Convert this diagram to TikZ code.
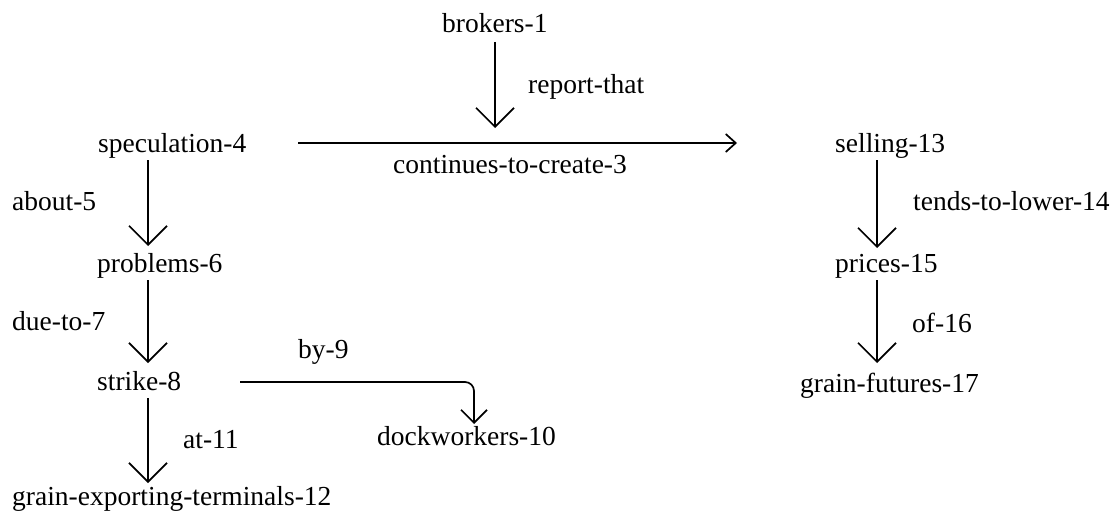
\documentclass[tikz,border=0pt]{standalone}
\usepackage{fontspec}
\setmainfont{Liberation Serif}
\usetikzlibrary{arrows.meta}
\begin{document}
\begin{tikzpicture}[x=1pt,y=-1pt,
  lbl/.style={anchor=base west, inner sep=0pt, font=\fontsize{27.5}{32}\selectfont},
  edge/.style={line width=1.7pt},
  vee/.style={edge, -{Straight Barb[length=19pt,width=38pt,line width=1.7pt]}},
  smallvee/.style={edge, -{Straight Barb[length=13pt,width=26pt,line width=1.7pt]}},
  chevron/.style={edge, -{Straight Barb[length=10pt,width=18pt,line width=1.7pt]}}]
\useasboundingbox (0,0) rectangle (1117,511);
% nodes
\node[lbl] (brokers) at (442,33) {brokers-1};
\node[lbl] (reportthat) at (528,93) {report-that};
\node[lbl] (spec) at (98,152) {speculation-4};
\node[lbl] (cont) at (393,173) {continues-to-create-3};
\node[lbl] (selling) at (835,152) {selling-13};
\node[lbl] (about) at (12,210) {about-5};
\node[lbl] (tends) at (913,210) {tends-to-lower-14};
\node[lbl] (problems) at (97,272) {problems-6};
\node[lbl] (prices) at (835,272) {prices-15};
\node[lbl] (dueto) at (12,330) {due-to-7};
\node[lbl] (of) at (912,332) {of-16};
\node[lbl] (by) at (298,358) {by-9};
\node[lbl] (strike) at (97,390) {strike-8};
\node[lbl] (futures) at (800,392) {grain-futures-17};
\node[lbl] (dock) at (377,445) {dockworkers-10};
\node[lbl] (at) at (183,448) {at-11};
\node[lbl] (terminals) at (12,505) {grain-exporting-terminals-12};
% connector end points
\coordinate (bA) at (495,42);  \coordinate (bB) at (495,128);
\coordinate (hA) at (298,143); \coordinate (hB) at (737,143);
\coordinate (sA) at (148,160); \coordinate (sB) at (148,246);
\coordinate (pA) at (148,280); \coordinate (pB) at (148,363);
\coordinate (kA) at (148,398); \coordinate (kB) at (148,483);
\coordinate (dA) at (240,382); \coordinate (dB) at (474,424);
\coordinate (eA) at (877,160); \coordinate (eB) at (877,248);
\coordinate (rA) at (877,280); \coordinate (rB) at (877,363);
% connectors
\draw[vee] (bA) -- (bB);
\draw[chevron] (hA) -- (hB);
\draw[vee] (sA) -- (sB);
\draw[vee] (pA) -- (pB);
\draw[vee] (kA) -- (kB);
\draw[smallvee, rounded corners=9pt] (dA) -- (dA -| dB) -- (dB);
\draw[vee] (eA) -- (eB);
\draw[vee] (rA) -- (rB);
\end{tikzpicture}
\end{document}
